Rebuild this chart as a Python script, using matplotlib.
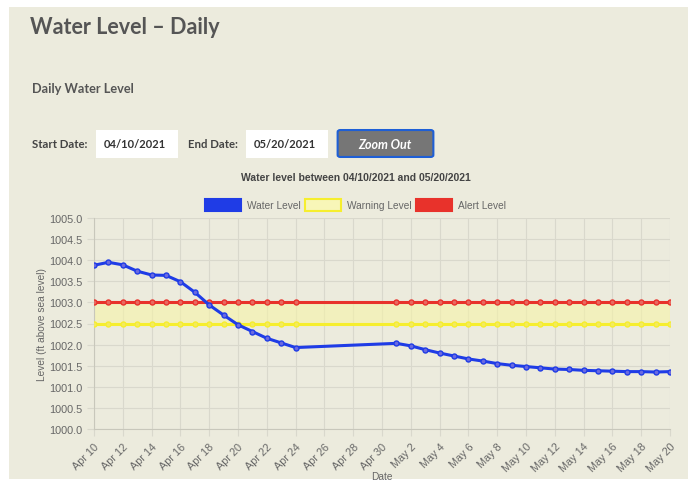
import numpy as np
import matplotlib
matplotlib.use("Agg")
import matplotlib.pyplot as plt
import matplotlib.dates as mdates
from matplotlib.patches import Rectangle, FancyBboxPatch
from matplotlib.ticker import MultipleLocator, FuncFormatter, FixedLocator
import datetime as dt

# data (gap between Apr 24 and May 1)
april_days = list(range(10, 25))
may_days = list(range(1, 21))
dates = [dt.date(2021, 4, d) for d in april_days] + [dt.date(2021, 5, d) for d in may_days]

water_level = [1003.88, 1003.95, 1003.89, 1003.74, 1003.65, 1003.64, 1003.49, 1003.24,
               1002.94, 1002.70, 1002.47, 1002.31, 1002.15, 1002.04, 1001.93,
               1002.03, 1001.97, 1001.88, 1001.80, 1001.73, 1001.66, 1001.61, 1001.55,
               1001.51, 1001.48, 1001.45, 1001.42, 1001.41, 1001.39, 1001.38, 1001.37,
               1001.36, 1001.36, 1001.35, 1001.36]
warning_level = [1002.5] * len(dates)
alert_level = [1003.0] * len(dates)

start_date = dt.date(2021, 4, 10)
end_date = dt.date(2021, 5, 20)

W, H = 688, 485
BG = '#ecebdd'
BLUE = '#1f3ce6'
YELLOW = '#f6ee2e'
RED = '#e8322b'
GRAY_TXT = '#666666'
PAGE_TXT = '#555555'

def px(x, y):
    return x / W, 1 - y / H

fig = plt.figure(figsize=(W / 100, H / 100), dpi=100)
fig.patch.set_facecolor('white')

# page panel
fig.patches.append(Rectangle(px(9, 480), (W - 9) / W, (480 - 8) / H,
                             transform=fig.transFigure, facecolor=BG,
                             edgecolor='none', zorder=-10))

page_font = 'Lato'
fig.text(*px(30, 28), 'Water Level \u2013 Daily', fontsize=15.5, fontweight='bold',
         family=page_font, color=PAGE_TXT, va='center')
fig.text(*px(32, 89), 'Daily Water Level', fontsize=9.2, fontweight='bold',
         family=page_font, color=PAGE_TXT, va='center')
fig.text(*px(32, 145), 'Start Date:', fontsize=8.2, fontweight='bold',
         family=page_font, color='#444444', va='center')
fig.text(*px(188, 145), 'End Date:', fontsize=8.2, fontweight='bold',
         family=page_font, color='#444444', va='center')

# input boxes
for x0, label in [(96, '04/10/2021'), (246, '05/20/2021')]:
    fig.patches.append(Rectangle(px(x0, 159), 82 / W, 28 / H, transform=fig.transFigure,
                                 facecolor='white', edgecolor='none'))
    fig.text(*px(x0 + 8, 145), label, fontsize=8, fontweight='bold',
             family=page_font, color='#333333', va='center')

# zoom out button
fig.patches.append(FancyBboxPatch(px(339, 157), 93 / W, 25 / H,
                                  boxstyle='round,pad=0.002,rounding_size=0.004',
                                  transform=fig.transFigure, facecolor='#767676',
                                  edgecolor='#1e5fd6', linewidth=1.5))
fig.text(*px(385, 145), 'Zoom Out', fontsize=9, fontweight='bold', style='italic',
         family=page_font, color='white', va='center', ha='center')

# chart title
fig.text(*px(356, 178), 'Water level between 04/10/2021 and 05/20/2021', fontsize=7.5,
         fontweight='bold', family='Liberation Sans', color='#444444',
         ha='center', va='center')

# legend drawn by hand like chart.js
legend_items = [(205, 'Water Level', BLUE, BLUE), (305, 'Warning Level', '#f8f6b8', YELLOW),
                (416, 'Alert Level', RED, RED)]
for x0, name, fc, ec in legend_items:
    fig.patches.append(Rectangle(px(x0, 212), 36 / W, 12 / H, transform=fig.transFigure,
                                 facecolor=fc, edgecolor=ec, linewidth=1.5))
    fig.text(*px(x0 + 42, 206), name, fontsize=7.3, family='Liberation Sans',
             color=GRAY_TXT, va='center')

ax = fig.add_axes([94 / W, 1 - 430 / H, (670 - 94) / W, (430 - 219) / H])
ax.set_facecolor('none')

x = mdates.date2num(dates)
ax.fill_between(x, warning_level, alert_level, color='#f7f4a8', alpha=0.6, lw=0, zorder=1)
ax.plot(x, warning_level, color=YELLOW, lw=2.2, marker='o', ms=3.6,
        mfc='#f3ea60', mec=YELLOW, zorder=3)
ax.plot(x, alert_level, color=RED, lw=2.2, marker='o', ms=3.6,
        mfc='#e86a60', mec=RED, zorder=4)
ax.plot(x, water_level, color=BLUE, lw=2.2, marker='o', ms=3.6,
        mfc='#6a6ae0', mec=BLUE, zorder=5)

x0, x1 = mdates.date2num(start_date), mdates.date2num(end_date)
ax.set_xlim(x0, x1)
ax.set_ylim(1000, 1005)
ax.xaxis.set_major_locator(FixedLocator(np.arange(x0, x1 + 1, 2)))
ax.yaxis.set_major_locator(MultipleLocator(0.5))

def date_fmt(v, pos):
    d = mdates.num2date(v)
    return f"{d:%b} {d.day}"

ax.xaxis.set_major_formatter(FuncFormatter(date_fmt))
ax.yaxis.set_major_formatter(FuncFormatter(lambda v, p: f"{v:.1f}"))

ax.grid(True, color='#d9d8cc', lw=0.8)
ax.set_axisbelow(True)
for s in ['top', 'right']:
    ax.spines[s].set_visible(False)
for s in ['left', 'bottom']:
    ax.spines[s].set_color('#c8c7bb')
ax.tick_params(colors='#d9d8cc', labelcolor=GRAY_TXT, labelsize=7.8, length=5, width=0.8)
for lab in ax.get_xticklabels():
    lab.set_rotation(45)
    lab.set_ha('right')
    lab.set_rotation_mode('anchor')
    lab.set_family('Liberation Sans')
for lab in ax.get_yticklabels():
    lab.set_family('Liberation Sans')

fig.text(*px(42, 325), 'Level (ft above sea level)', rotation=90, fontsize=7.3,
         family='Liberation Sans', color=GRAY_TXT, ha='center', va='center')
fig.text(*px(382, 477), 'Date', fontsize=7.3, family='Liberation Sans',
         color=GRAY_TXT, ha='center', va='center')

fig.savefig('out.png', dpi=100, facecolor=fig.get_facecolor())
